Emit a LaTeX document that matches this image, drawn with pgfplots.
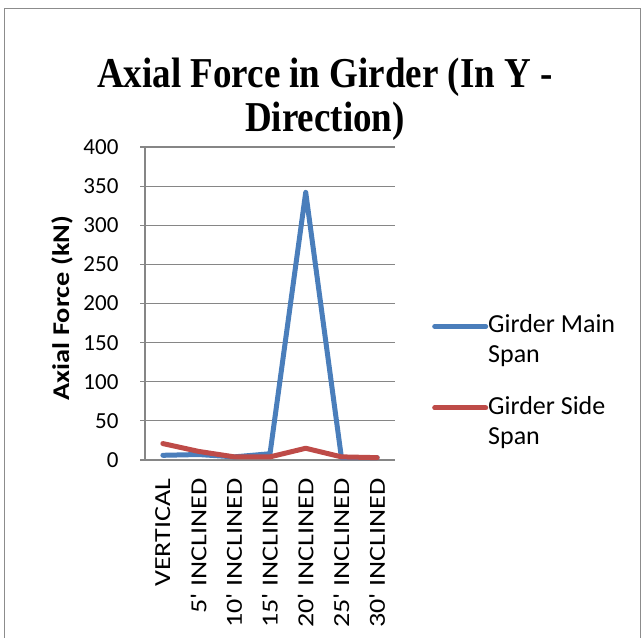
\documentclass[border=0pt]{standalone}
\usepackage{fontspec}
\setmainfont{Carlito}
\newfontfamily\titlefont{Liberation Serif}
\usepackage{graphicx}
\usepackage{pgfplots}
\pgfplotsset{compat=1.18}
\definecolor{mainblue}{HTML}{4A7EBB}
\definecolor{sidered}{HTML}{BE4B48}
\definecolor{framegray}{HTML}{8C8C8C}
\definecolor{gridgray}{HTML}{868686}
\newcommand{\xl}[1]{\scalebox{1.22}[1]{#1}}

\begin{document}
\begin{tikzpicture}[x=1pt,y=1pt]
\path[use as bounding box] (0pt,0pt) rectangle (644pt,637pt);
\draw[framegray, line width=1pt] (4.5pt,-5pt) -- (4.5pt,628pt) -- (640.5pt,628pt) -- (640.5pt,-5pt);
\node[align=center, font=\titlefont\bfseries\fontsize{37}{44}\selectfont] at (325pt,538pt)
  {\scalebox{1}[1.15]{Axial Force in Girder (In Y -}\\\scalebox{1}[1.15]{Direction)}};
\node[rotate=90, font=\bfseries\fontsize{24}{28}\selectfont] at (62pt,329pt) {\scalebox{1.18}[1]{Axial Force (kN)}};
\begin{axis}[
    scale only axis,
    width=250pt, height=313pt,
    at={(145pt,177pt)}, anchor=south west,
    xmin=-0.5, xmax=6.5,
    ymin=0, ymax=400,
    ytick={0,50,...,400},
    xtick={0,...,6},
    xticklabels={\xl{VERTICAL},\xl{5\textquotesingle{} INCLINED},\xl{10\textquotesingle{} INCLINED},\xl{15\textquotesingle{} INCLINED},\xl{20\textquotesingle{} INCLINED},\xl{25\textquotesingle{} INCLINED},\xl{30\textquotesingle{} INCLINED}},
    xticklabel style={rotate=90, anchor=east, font=\fontsize{23}{26}\selectfont},
    yticklabel style={font=\fontsize{23}{26}\selectfont},
    xticklabel shift=10pt,
    yticklabel shift=18pt,
    /pgf/number format/assume math mode=true,
    ymajorgrids=true,
    grid style={gridgray, line width=1.2pt},
    axis line style={gridgray, line width=1.2pt},
    axis x line*=bottom,
    axis y line*=left,
    x axis line style={-},
    y axis line style={-},
    xtick style={draw=none},
    ytick style={gridgray, line width=1.2pt},
    tick align=outside,
    major tick length=5pt,
    clip=false,
    legend style={draw=none, at={(1.148,0.465)}, anchor=north west, inner sep=0pt,
        font=\fontsize{26}{30}\selectfont, row sep=32pt,
        nodes={inner sep=0pt},
        cells={align=left, anchor=west},
        /tikz/every even column/.append style={column sep=4pt}},
    legend cell align=left,
    legend image code/.code={\path[draw=none, fill=none] (0pt,-14pt) rectangle (55pt,14pt);
        \draw[#1, line width=5pt, line cap=round] (2pt,13pt) -- (53pt,13pt);},
]
\addplot[mainblue, line width=5pt, line cap=round, line join=round] coordinates {
    (0,6) (1,7) (2,4) (3,8) (4,342) (5,3) (6,3)
};
\addplot[sidered, line width=5pt, line cap=round, line join=round] coordinates {
    (0,21) (1,11) (2,4) (3,4) (4,15) (5,4) (6,3)
};
\legend{Girder Main\\Span, Girder Side\\Span}
\end{axis}
\end{tikzpicture}
\end{document}
